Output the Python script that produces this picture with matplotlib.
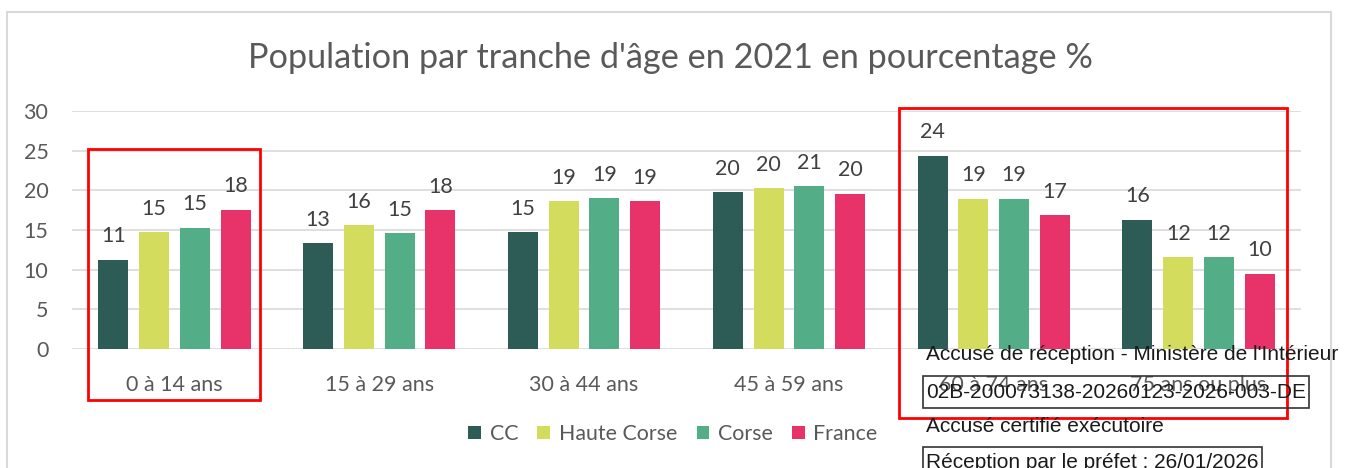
import matplotlib
matplotlib.use("Agg")
import matplotlib.pyplot as plt
from matplotlib.patches import Rectangle
import numpy as np

# data
categories = ["0 à 14 ans", "15 à 29 ans", "30 à 44 ans", "45 à 59 ans",
              "60 à 74 ans", "75 ans ou plus"]
series = ["CC", "Haute Corse", "Corse", "France"]
cc = [11.25, 13.3, 14.7, 19.75, 24.35, 16.3]
haute_corse = [14.7, 15.6, 18.6, 20.3, 18.95, 11.55]
corse = [15.3, 14.6, 19.0, 20.55, 18.95, 11.6]
france = [17.55, 17.5, 18.6, 19.6, 16.9, 9.5]
colors = ["#2D5B55", "#D4DC5E", "#53AE87", "#E8336A"]

W, H = 1345, 468
TXT = "#595959"
plt.rcParams["font.family"] = ["Lato", "DejaVu Sans"]

fig = plt.figure(figsize=(W / 100, H / 100), dpi=100)
ax = fig.add_axes([72 / W, 1 - 349 / H, (1301 - 72) / W, (349 - 111) / H])

x = np.arange(len(categories))
slot = 0.199
bw = 0.1465
for i, (name, vals) in enumerate(zip(series, [cc, haute_corse, corse, france])):
    pos = x + (i - 1.5) * slot
    bars = ax.bar(pos, vals, bw, color=colors[i], label=name, zorder=3)
    for b, v in zip(bars, vals):
        ax.text(b.get_x() + b.get_width() / 2, v + 2.95, f"{v + 1e-9:.0f}",
                ha="center", va="center", fontsize=15.5, color="#404040")

ax.set_xlim(-0.5, len(categories) - 0.5)
ax.set_ylim(0, 30)
ax.set_yticks(range(0, 31, 5))
ax.set_xticks(x)
ax.set_xticklabels(categories)
ax.yaxis.grid(True, color="#D9D9D9", linewidth=1.2, zorder=0)
for s in ax.spines.values():
    s.set_visible(False)
ax.tick_params(axis="both", length=0, labelsize=15.5, labelcolor=TXT)
ax.tick_params(axis="x", pad=19)
ax.tick_params(axis="y", pad=17)

fig.text(670 / W, 1 - 58 / H, "Population par tranche d'âge en 2021 en pourcentage %",
         ha="center", va="center", fontsize=24.7, color=TXT)

ax.legend(loc="center", bbox_to_anchor=(673 / W, 1 - 434 / H),
          bbox_transform=fig.transFigure, ncol=4, frameon=False,
          fontsize=15.4, labelcolor=TXT, handlelength=0.6, handleheight=0.6,
          handletextpad=0.4, columnspacing=0.9)

# chart frame
frame = Rectangle((7 / W, -0.1), (1331 - 7) / W, 1 - 12 / H + 0.1,
                  transform=fig.transFigure, fill=False, edgecolor="#D9D9D9",
                  linewidth=1.5)
fig.add_artist(frame)

# red highlight boxes
for (x0, y0, x1, y1) in [(88, 149, 260, 400), (899, 108, 1287, 418)]:
    fig.add_artist(Rectangle((x0 / W, 1 - y1 / H), (x1 - x0) / W, (y1 - y0) / H,
                             transform=fig.transFigure, fill=False,
                             edgecolor="#FF0000", linewidth=2, zorder=10))

# reception stamp
stamp = dict(family=["Liberation Sans", "DejaVu Sans"], fontsize=15,
             color="#1a1a1a", zorder=11)
fig.text(926 / W, 1 - 354 / H, "Accusé de réception - Ministère de l'Intérieur",
         ha="left", va="center", **stamp)
fig.text(926 / W, 1 - 392 / H, "02B-200073138-20260123-2026-003-DE",
         ha="left", va="center", **stamp)
fig.text(926 / W, 1 - 426 / H, "Accusé certifié exécutoire",
         ha="left", va="center", **stamp)
fig.text(926 / W, 1 - 463 / H, "Réception par le préfet : 26/01/2026",
         ha="left", va="center", **stamp)
for (x0, y0, x1, y1) in [(923, 376, 1309, 408), (923, 447, 1262, 490)]:
    fig.add_artist(Rectangle((x0 / W, 1 - y1 / H), (x1 - x0) / W, (y1 - y0) / H,
                             transform=fig.transFigure, fill=False,
                             edgecolor="#333333", linewidth=1.2, zorder=11))

fig.savefig("out.png", dpi=100)
